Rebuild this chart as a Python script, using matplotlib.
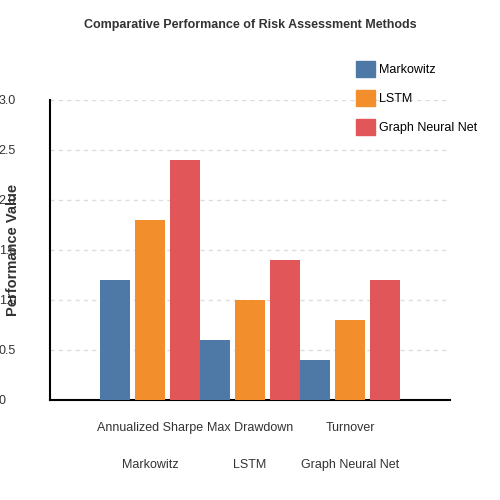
import numpy as np
import matplotlib.pyplot as plt
from matplotlib.patches import Patch

plt.rcParams['font.family'] = ['Liberation Sans', 'DejaVu Sans']

categories = ["Annualized Sharpe", "Max Drawdown", "Turnover"]
methods = ["Markowitz", "LSTM", "Graph Neural Net"]
markowitz = [1.2, 0.6, 0.4]
lstm = [1.8, 1.0, 0.8]
gnn = [2.4, 1.4, 1.2]
colors = ["#4e79a7", "#f28e2b", "#e15759"]
yticks = [0, 0.5, 1.0, 1.5, 2.0, 2.5, 3.0]
ytick_labels = ["0", "0.5", "1.0", "1.5", "2.0", "2.5", "3.0"]

fig = plt.figure(figsize=(5, 5), dpi=100)
ax = fig.add_axes([0.1, 0.2, 0.8, 0.6])

x = np.arange(len(categories))
for i, (vals, c) in enumerate(zip([markowitz, lstm, gnn], colors)):
    ax.bar(x + (i - 1) * 0.35, vals, width=0.3, color=c, zorder=3)

ax.set_xlim(-1, 3)
ax.set_ylim(0, 3)
ax.set_yticks(yticks)
ax.set_yticklabels(ytick_labels, fontsize=9, color="#333333", ha="left")
ax.tick_params(axis="y", length=0, pad=37)
ax.tick_params(axis="x", length=0, pad=16)
ax.set_xticks(x)
ax.set_xticklabels(categories, fontsize=9, color="#333333")
for xi, m in zip(x, methods):
    ax.text(xi, -0.217, m, ha="center", va="center", fontsize=9, color="#333333",
            transform=ax.get_xaxis_transform())
for y in yticks[1:]:
    ax.axhline(y, color="#dddddd", linestyle=(0, (3, 3)), linewidth=1, zorder=0)

ax.spines["top"].set_visible(False)
ax.spines["right"].set_visible(False)
ax.spines["left"].set_linewidth(1.5)
ax.spines["bottom"].set_linewidth(1.5)

ax.set_ylabel("Performance Value", fontsize=10.5, fontweight="bold", color="#333333")
ax.yaxis.set_label_coords(-0.075, 0.5)

fig.text(0.5, 0.95, "Comparative Performance of Risk Assessment Methods",
         ha="center", va="center", fontsize=9, fontweight="bold", color="#333333")

handles = [Patch(color=c) for c in colors]
fig.legend(handles, methods, loc="upper left", bbox_to_anchor=(0.69, 0.9),
           frameon=False, fontsize=9, handlelength=1.5, handleheight=1.5,
           labelspacing=1.1, handletextpad=0.3)

fig.savefig("out.png")
